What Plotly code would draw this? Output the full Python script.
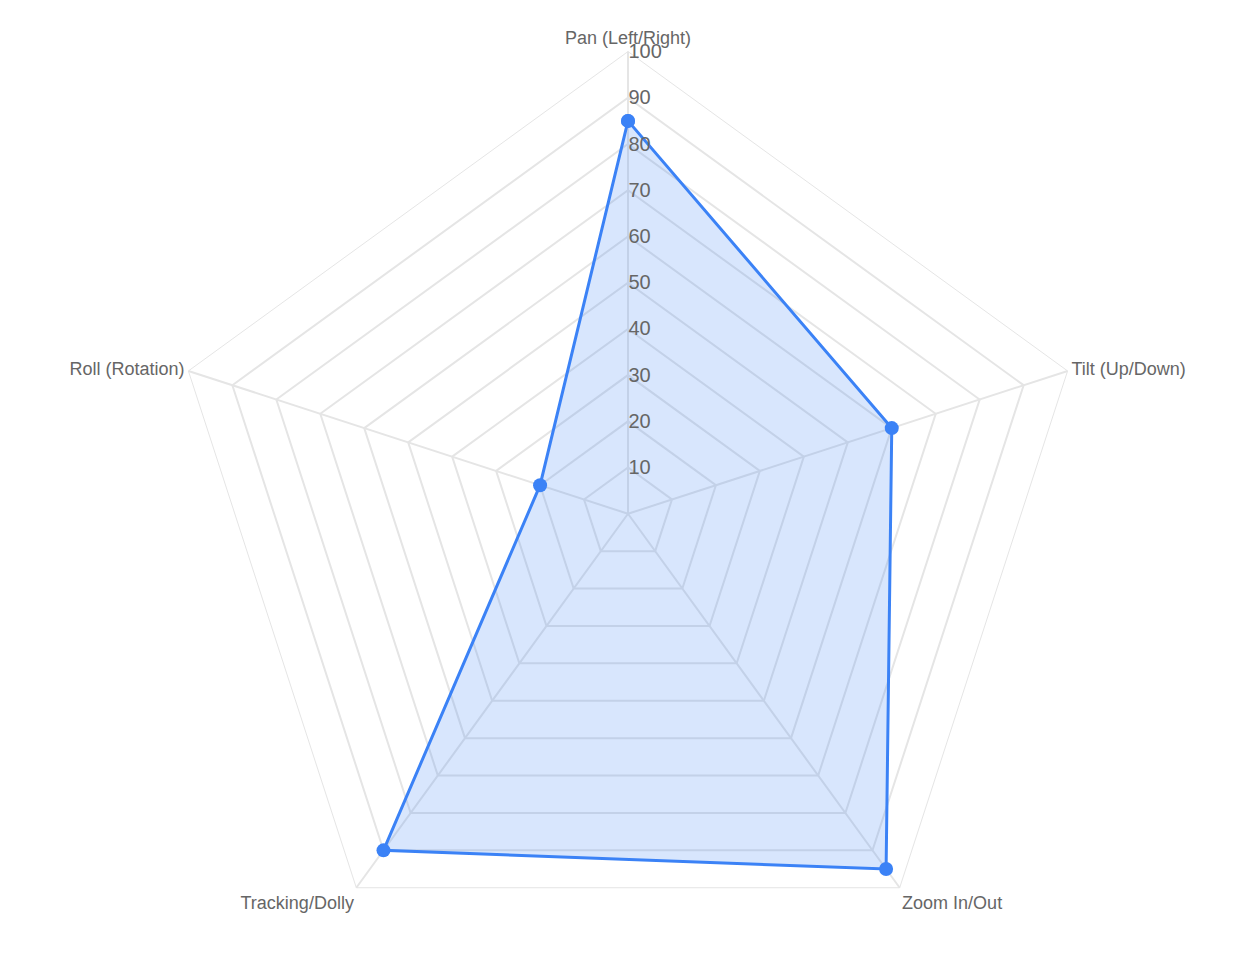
import plotly.graph_objects as go

# Camera movement categories and scores
categories = ['Pan (Left/Right)', 'Tilt (Up/Down)', 'Zoom In/Out', 'Tracking/Dolly', 'Roll (Rotation)']
values = [85, 60, 95, 90, 20]
radial_ticks = [10, 20, 30, 40, 50, 60, 70, 80, 90, 100]

fig = go.Figure()
fig.add_trace(go.Scatterpolar(
    r=values + values[:1],
    theta=categories + categories[:1],
    mode='lines+markers',
    fill='toself',
    fillcolor='rgba(59,130,246,0.2)',
    line=dict(color='#3b82f6', width=3),
    marker=dict(size=14, color='#3b82f6'),
    showlegend=False
))

fig.update_layout(
    width=1240, height=968,
    margin=dict(l=0, r=0, t=0, b=0),
    paper_bgcolor='white',
    font=dict(family='Arial, Liberation Sans, sans-serif', color='#666'),
    polar=dict(
        domain=dict(x=[0, 1], y=[0, 0.955]),
        bgcolor='white',
        gridshape='linear',
        radialaxis=dict(
            range=[0, 100], tickvals=radial_ticks, angle=90, tickangle=90,
            showline=False, gridcolor='#e5e5e5', gridwidth=1.5,
            tickfont=dict(size=20, color='#666'), ticks=''
        ),
        angularaxis=dict(
            direction='clockwise', rotation=90,
            gridcolor='#e5e5e5', gridwidth=1.5, linecolor='#e5e5e5',
            tickfont=dict(size=18, color='#666'), ticks=''
        )
    )
)

fig.write_html("out.html")
